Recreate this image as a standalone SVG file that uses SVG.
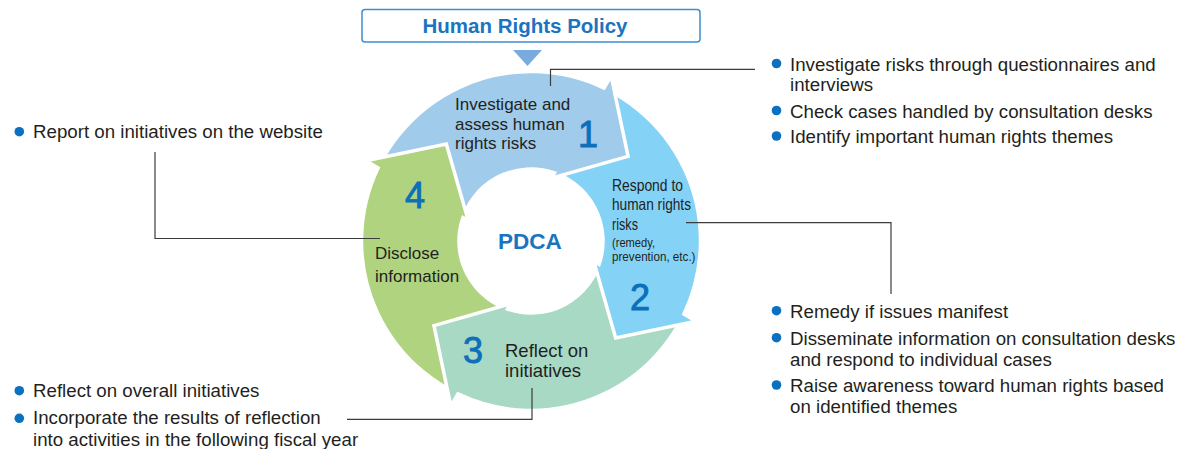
<svg xmlns="http://www.w3.org/2000/svg" xmlns:xlink="http://www.w3.org/1999/xlink" width="1178" height="449" viewBox="0 0 1178 449">
<style>
  text { font-family: "Liberation Sans", Arial, Helvetica, sans-serif; fill: #231f20; }
  .ring { font-size: 17px; }
  .ring3 { font-size: 18.5px; }
  .ring2 { font-size: 16.5px; }
  .small { font-size: 12.5px; }
  .num { font-size: 36px; fill: #0b6fba; stroke: #0b6fba; stroke-width: 0.9; text-anchor: middle; }
  .b { font-size: 18.7px; }
  .dot { fill: #0a70c0; }
  .conn { fill: none; stroke: #3c3c3c; stroke-width: 1.2; }
  .arw { stroke: #ffffff; stroke-width: 3.5; stroke-linejoin: miter; }
</style>
<defs>
  <path id="arrowShape" d="M -163.73 -43.87 A 169.5 169.5 0 0 1 73.07 -152.95 L 80.15 -165.08 L 97.06 -84.67 L 20.39 -62.77 L 23.49 -68.06 A 72 72 0 0 0 -69.55 -18.63 Z"/>
  <mask id="m1" maskUnits="userSpaceOnUse" x="0" y="0" width="1178" height="449">
    <rect x="0" y="0" width="1178" height="449" fill="#fff"/>
    <use xlink:href="#arrowShape" href="#arrowShape" transform="translate(531 241) rotate(270)" fill="#000" stroke="#000" stroke-width="3.5"/>
  </mask>
</defs>

<g id="title">
  <rect x="362" y="9.5" width="338" height="32.5" rx="3" fill="#fff" stroke="#3d8ed0" stroke-width="1.5"/>
  <text x="525" y="33" text-anchor="middle" style="font-size:20.5px;font-weight:bold;fill:#1a74bf">Human Rights Policy</text>
</g>

<g id="step4">
  <use xlink:href="#arrowShape" href="#arrowShape" class="arw" fill="#afd37f" transform="translate(531 241) rotate(270)"/>
  <text class="num" x="415" y="208">4</text>
  <text class="ring" x="375" y="259">Disclose</text>
  <text class="ring" x="375" y="282">information</text>
</g>

<g id="step3">
  <use xlink:href="#arrowShape" href="#arrowShape" class="arw" fill="#a8d9c5" transform="translate(531 241) rotate(180)"/>
  <text class="num" x="473" y="363">3</text>
  <text class="ring3" x="505" y="357">Reflect on</text>
  <text class="ring3" x="505" y="377">initiatives</text>
</g>

<g id="step2">
  <use xlink:href="#arrowShape" href="#arrowShape" class="arw" fill="#84d3f6" transform="translate(531 241) rotate(90)"/>
  <text class="num" x="640" y="310">2</text>
  <text class="ring2" x="612" y="191" textLength="71" lengthAdjust="spacingAndGlyphs">Respond to</text>
  <text class="ring2" x="612" y="210" textLength="79" lengthAdjust="spacingAndGlyphs">human rights</text>
  <text class="ring2" x="612" y="229.5" textLength="26" lengthAdjust="spacingAndGlyphs">risks</text>
  <text class="small" x="612" y="246.5" textLength="43" lengthAdjust="spacingAndGlyphs">(remedy,</text>
  <text class="small" x="612" y="261" textLength="83.5" lengthAdjust="spacingAndGlyphs">prevention, etc.)</text>
</g>

<g id="step1">
  <g mask="url(#m1)">
    <use xlink:href="#arrowShape" href="#arrowShape" class="arw" fill="#a0cbeb" transform="translate(531 241)"/>
  </g>
  <text class="num" x="588" y="147">1</text>
  <text class="ring" x="455" y="110">Investigate and</text>
  <text class="ring" x="455" y="129.5">assess human</text>
  <text class="ring" x="455" y="149">rights risks</text>
</g>

<g id="center">
  <text x="530" y="249" text-anchor="middle" style="font-size:22.5px;font-weight:bold;fill:#1a74bf">PDCA</text>
</g>

<g id="connectors">
  <polygon points="513,50 542,50 527.5,66" fill="#78acdc"/>
  <polyline class="conn" points="550.5,86 550.5,69.3 755,69.3"/>
  <polyline class="conn" points="686,222.7 891,222.7 891,294"/>
  <polyline class="conn" points="380,238.5 155,238.5 155,152"/>
  <polyline class="conn" points="532,388 532,419.3 347,419.3"/>
</g>

<g id="notes-investigate">
  <circle class="dot" cx="776.5" cy="63.5" r="4.8"/>
  <text class="b" x="790" y="71">Investigate risks through questionnaires and</text>
  <text class="b" x="790" y="91">interviews</text>
  <circle class="dot" cx="776.5" cy="110.5" r="4.8"/>
  <text class="b" x="790" y="118">Check cases handled by consultation desks</text>
  <circle class="dot" cx="776.5" cy="136" r="4.8"/>
  <text class="b" x="790" y="143">Identify important human rights themes</text>
</g>

<g id="notes-respond">
  <circle class="dot" cx="776.5" cy="310.7" r="4.8"/>
  <text class="b" x="790" y="318">Remedy if issues manifest</text>
  <circle class="dot" cx="776.5" cy="337.7" r="4.8"/>
  <text class="b" x="790" y="345">Disseminate information on consultation desks</text>
  <text class="b" x="790" y="366">and respond to individual cases</text>
  <circle class="dot" cx="776.5" cy="385" r="4.8"/>
  <text class="b" x="790" y="392">Raise awareness toward human rights based</text>
  <text class="b" x="790" y="413">on identified themes</text>
</g>

<g id="notes-disclose">
  <circle class="dot" cx="19.3" cy="131.7" r="4.8"/>
  <text class="b" x="33" y="138.3">Report on initiatives on the website</text>
</g>

<g id="notes-reflect">
  <circle class="dot" cx="19.3" cy="390.7" r="4.8"/>
  <text class="b" x="33" y="397.3">Reflect on overall initiatives</text>
  <circle class="dot" cx="19.3" cy="418.3" r="4.8"/>
  <text class="b" x="33" y="424">Incorporate the results of reflection</text>
  <text class="b" x="33" y="446">into activities in the following fiscal year</text>
</g>
</svg>
